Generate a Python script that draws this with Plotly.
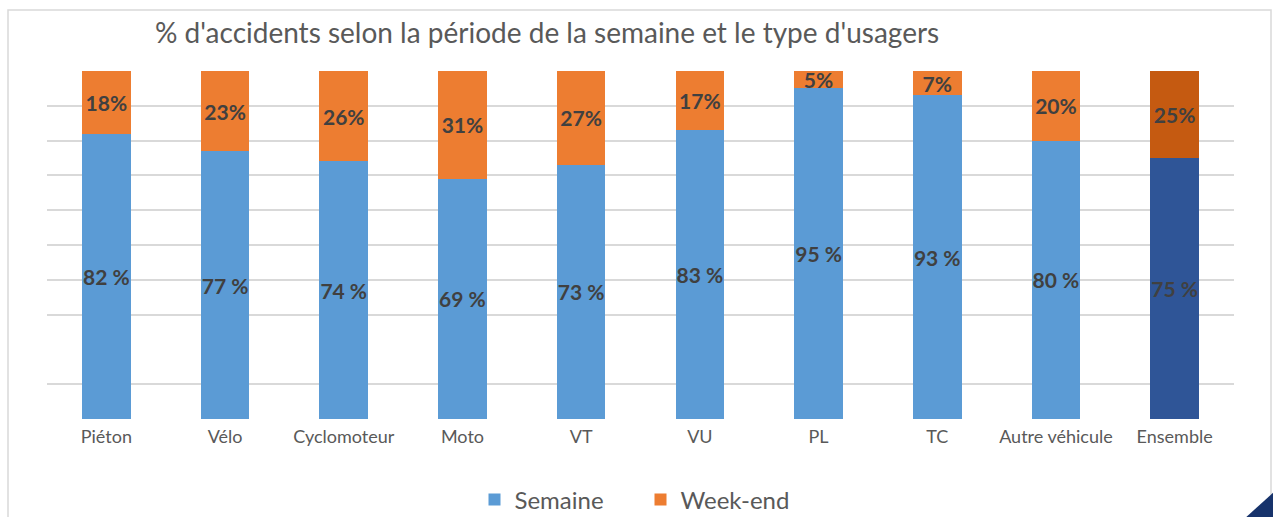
import plotly.graph_objects as go

categories = ["Piéton", "Vélo", "Cyclomoteur", "Moto", "VT", "VU", "PL", "TC", "Autre véhicule", "Ensemble"]
semaine = [82, 77, 74, 69, 73, 83, 95, 93, 80, 75]
weekend = [18, 23, 26, 31, 27, 17, 5, 7, 20, 25]
semaine_labels = [f"{v} %" for v in semaine]
weekend_labels = [f"{v}%" for v in weekend]

blue, dark_blue = "#5B9BD5", "#2F5597"
orange, dark_orange = "#ED7D31", "#C55A11"
sem_colors = [blue] * (len(categories) - 1) + [dark_blue]
we_colors = [orange] * (len(categories) - 1) + [dark_orange]

FONT = "Lato"
label_font = dict(family=FONT, size=21, color="#404040", weight="bold")

fig = go.Figure()
fig.add_trace(go.Bar(
    x=categories, y=semaine, name="Semaine", marker=dict(color=sem_colors, line_width=0),
    text=semaine_labels, textposition="inside", insidetextanchor="middle", textangle=0,
    constraintext="none", textfont=label_font, hoverinfo="x+y",
))
fig.add_trace(go.Bar(
    x=categories, y=weekend, name="Week-end", marker=dict(color=we_colors, line_width=0),
    text=weekend_labels, textposition="inside", insidetextanchor="middle", textangle=0,
    constraintext="none", textfont=label_font, hoverinfo="x+y",
))

W, H = 1273, 517
ml, mr, mt, mb = 47, 39, 71, 98
PW, PH = W - ml - mr, H - mt - mb
fig.update_layout(
    width=W, height=H, barmode="stack", bargap=0.59,
    margin=dict(l=ml, r=mr, t=mt, b=mb, autoexpand=False),
    paper_bgcolor="white", plot_bgcolor="white",
    font=dict(family=FONT, color="#595959"),
    showlegend=True,
    legend=dict(orientation="h", x=0.5, xanchor="center", y=(H - mb - 500) / PH, yanchor="middle",
                font=dict(size=24, color="#595959"), traceorder="normal",
                itemsizing="constant", itemwidth=30, entrywidth=121, entrywidthmode="pixels"),
    xaxis=dict(showline=False, ticks="", tickfont=dict(size=18, color="#595959"),
               ticklabelstandoff=5, showgrid=False, zeroline=False),
    yaxis=dict(range=[0, 100], tickvals=[0, 10, 30, 40, 50, 60, 70, 80, 90, 100],
               showticklabels=False, showgrid=True, gridcolor="#D9D9D9", gridwidth=1.5,
               zeroline=False, showline=False, fixedrange=True),
    annotations=[dict(
        text="% d'accidents selon la période de la semaine et le type d'usagers",
        xref="paper", yref="paper", x=(153 - ml) / PW, y=(H - mb - 32) / PH,
        xanchor="left", yanchor="middle", showarrow=False,
        font=dict(family=FONT, size=28, color="#595959"),
    )],
    shapes=[
        dict(type="rect", xref="paper", yref="paper",
             x0=(8 - ml) / PW, x1=(1271 - ml) / PW,
             y0=(H - mb - 530) / PH, y1=(H - mb - 10) / PH,
             line=dict(color="#D9D9D9", width=1.5), fillcolor="rgba(0,0,0,0)", layer="below"),
        dict(type="path", xref="paper", yref="paper",
             path="M {a},{b} L {c},{d} L {c},{b} Z".format(
                 a=(1243 - ml) / PW, b=(H - mb - 520) / PH,
                 c=(1276 - ml) / PW, d=(H - mb - 490) / PH),
             fillcolor="#17336B", line_width=0),
    ],
)
fig.write_html("out.html", config={"displayModeBar": False},
               post_script="document.body.style.margin='0';document.body.style.overflow='hidden';")
